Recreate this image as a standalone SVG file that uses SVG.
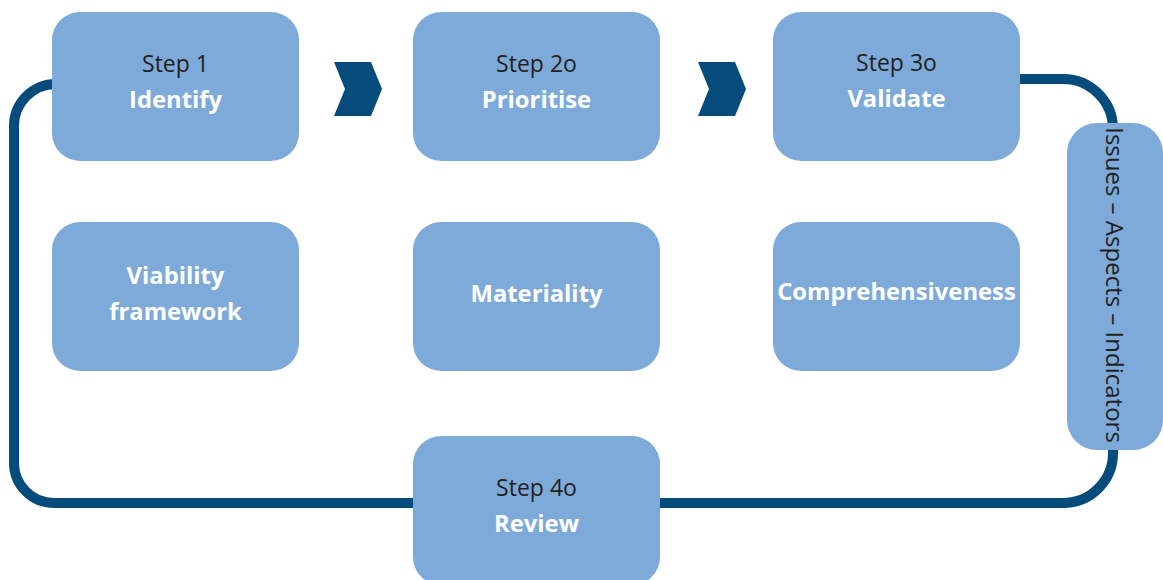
<svg xmlns="http://www.w3.org/2000/svg" width="1163" height="580" viewBox="0 0 1163 580">
<style>
.box{fill:#7eaad9;}
.loop{fill:none;stroke:#054b7c;stroke-width:10;}
.chev{fill:#054b7c;}
.t{font-family:"Open Sans","Liberation Sans",sans-serif;font-size:23px;text-anchor:middle;}
.s{fill:#231f20;}
.b{fill:#ffffff;font-weight:bold;font-size:23.8px;}
</style>
<rect width="1163" height="580" fill="#ffffff"/>
<g id="connectors">
<path class="loop" d="M 60 84 L 56 84 A 42 42 0 0 0 14 126 L 14 463 A 40 40 0 0 0 54 503 L 1063 503 A 50 50 0 0 0 1113 453 L 1113 129 A 50 50 0 0 0 1063 79 L 1010 79"/>
<polygon class="chev" points="334,62 371,62 382,89 371,116 334,116 345,89"/>
<polygon class="chev" points="698,62 735,62 746,89 735,116 698,116 709,89"/>
</g>
<g id="step1"><rect class="box" x="52" y="12" width="247" height="149" rx="28"/>
<text class="t s" x="175.5" y="72">Step 1</text><text class="t b" x="175.5" y="108">Identify</text></g>
<g id="step2"><rect class="box" x="413" y="12" width="247" height="149" rx="28"/>
<text class="t s" x="536.5" y="72">Step 2o</text><text class="t b" x="536.5" y="108">Prioritise</text></g>
<g id="step3"><rect class="box" x="773" y="12" width="247" height="149" rx="28"/>
<text class="t s" x="896.5" y="71">Step 3o</text><text class="t b" x="896.5" y="107">Validate</text></g>
<g id="viability"><rect class="box" x="52" y="222" width="247" height="149" rx="28"/>
<text class="t b" x="175.5" y="284">Viability</text><text class="t b" x="175.5" y="320">framework</text></g>
<g id="materiality"><rect class="box" x="413" y="222" width="247" height="149" rx="28"/>
<text class="t b" x="536.5" y="302">Materiality</text></g>
<g id="comprehensiveness"><rect class="box" x="773" y="222" width="247" height="149" rx="28"/>
<text class="t b" x="896.5" y="300">Comprehensiveness</text></g>
<g id="step4"><rect class="box" x="413" y="436" width="247" height="149" rx="28"/>
<text class="t s" x="536.5" y="496">Step 4o</text><text class="t b" x="536.5" y="532">Review</text></g>
<g id="issues"><rect class="box" x="1067" y="123" width="96" height="327" rx="30"/>
<text class="t s" transform="translate(1106 285) rotate(90)" x="0" y="0" style="font-size:24px">Issues – Aspects – Indicators</text></g>
</svg>
